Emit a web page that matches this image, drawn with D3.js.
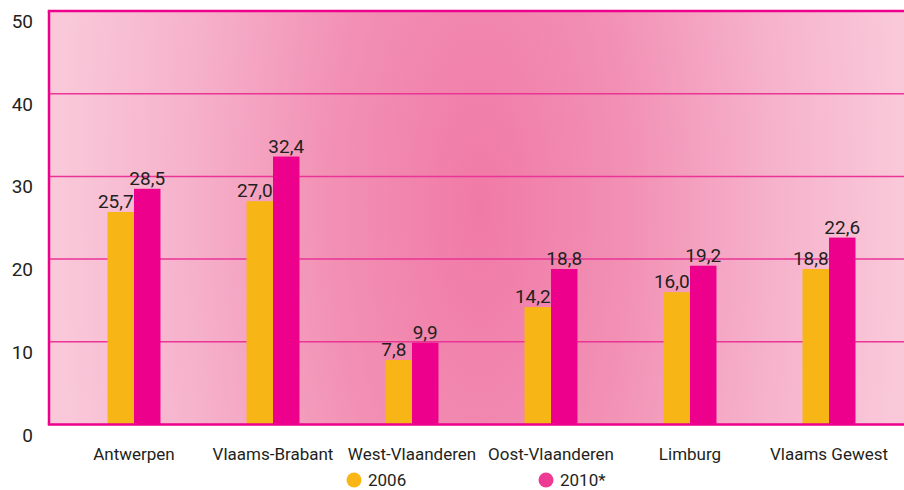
<!DOCTYPE html>
<html><head><meta charset="utf-8">
<script src="https://cdn.jsdelivr.net/npm/d3@7"></script>
<style>
html,body{margin:0;padding:0;background:#fff;}
svg{display:block;}
text{font-family:Roboto,"Liberation Sans",sans-serif;fill:#231f20;}
</style></head>
<body>
<svg id="chart" width="904" height="490"></svg>
<script>
const categories = ["Antwerpen","Vlaams-Brabant","West-Vlaanderen","Oost-Vlaanderen","Limburg","Vlaams Gewest"];
const series = ["2006","2010*"];
const values2006 = [25.7, 27.0, 7.8, 14.2, 16.0, 18.8];
const values2010 = [28.5, 32.4, 9.9, 18.8, 19.2, 22.6];
const yTicks = [0,10,20,30,40,50];
const colors = ["#f8b516","#ec008c"];
const legendColors = ["#fbb616","#ee3a93"];

const svg = d3.select("#chart");
const plotL = 49, plotR = 904, plotT = 11, plotB = 424.5;

const y = d3.scaleLinear().domain([0,50]).range([plotB, plotT]);
const x0 = d3.scaleBand().domain(categories).range([64.5, 898.5]).paddingInner(0.619).paddingOuter(0.3095);
const x1 = d3.scaleBand().domain(series).range([0, x0.bandwidth()]);

const defs = svg.append("defs");
const grad = defs.append("radialGradient").attr("id","bg")
  .attr("gradientUnits","userSpaceOnUse")
  .attr("cx",480).attr("cy",207).attr("r",420)
  .attr("gradientTransform","translate(480,207) scale(1,2.4) translate(-480,-207)");
grad.append("stop").attr("offset","0").attr("stop-color","#f07aa6");
grad.append("stop").attr("offset","0.35").attr("stop-color","#f290b4");
grad.append("stop").attr("offset","0.7").attr("stop-color","#f6b2cb");
grad.append("stop").attr("offset","1").attr("stop-color","#f9c8d9");

svg.append("rect").attr("x",plotL).attr("y",plotT).attr("width",plotR-plotL).attr("height",plotB-plotT).attr("fill","url(#bg)");

// gridlines
svg.append("g").selectAll("line").data(yTicks.filter(d=>d>0 && d<50)).join("line")
  .attr("x1",plotL).attr("x2",plotR).attr("y1",d=>y(d)).attr("y2",d=>y(d))
  .attr("stroke","#ea3596").attr("stroke-width",1.5);

// y labels
svg.append("g").selectAll("text").data(yTicks).join("text")
  .attr("x",33).attr("y",d=>y(d)+17).attr("text-anchor","end")
  .attr("font-size",19).text(d=>d);

const data = categories.map((c,i)=>({cat:c, vals:[{s:series[0],v:values2006[i]},{s:series[1],v:values2010[i]}]}));

const groups = svg.append("g").selectAll("g").data(data).join("g")
  .attr("transform",d=>`translate(${x0(d.cat)},0)`);

groups.selectAll("rect").data(d=>d.vals).join("rect")
  .attr("x",d=>x1(d.s)).attr("width",x1.bandwidth())
  .attr("y",d=>y(d.v)).attr("height",d=>plotB-y(d.v))
  .attr("fill",(d,i)=>colors[i]);

groups.selectAll("text.val").data(d=>d.vals).join("text").attr("class","val")
  .attr("x",(d,i)=>x1(d.s)+x1.bandwidth()/2 - (i===0?5:0))
  .attr("y",d=>y(d.v)-4).attr("text-anchor","middle").attr("font-size",19)
  .text(d=>d3.format(".1f")(d.v).replace(".",","));

// axes borders
svg.append("line").attr("x1",plotL-1.2).attr("x2",plotR).attr("y1",plotT).attr("y2",plotT).attr("stroke","#ec008c").attr("stroke-width",2.5);
svg.append("line").attr("x1",plotL-1.2).attr("x2",plotR).attr("y1",plotB).attr("y2",plotB).attr("stroke","#ec008c").attr("stroke-width",2.5);
svg.append("line").attr("x1",plotL).attr("x2",plotL).attr("y1",plotT).attr("y2",plotB).attr("stroke","#ec008c").attr("stroke-width",2.5);

// category labels
svg.append("g").selectAll("text").data(categories).join("text")
  .attr("x",d=>x0(d)+x0.bandwidth()/2).attr("y",460).attr("text-anchor","middle")
  .attr("font-size",17).text(d=>d);

// legend
const legX = [354, 546];
const leg = svg.append("g").selectAll("g").data(series).join("g")
  .attr("transform",(d,i)=>`translate(${legX[i]},480)`);
leg.append("circle").attr("r",7.5).attr("fill",(d,i)=>legendColors[i]);
leg.append("text").attr("x",14).attr("y",5.5).attr("font-size",17).text(d=>d);
</script>
</body></html>
